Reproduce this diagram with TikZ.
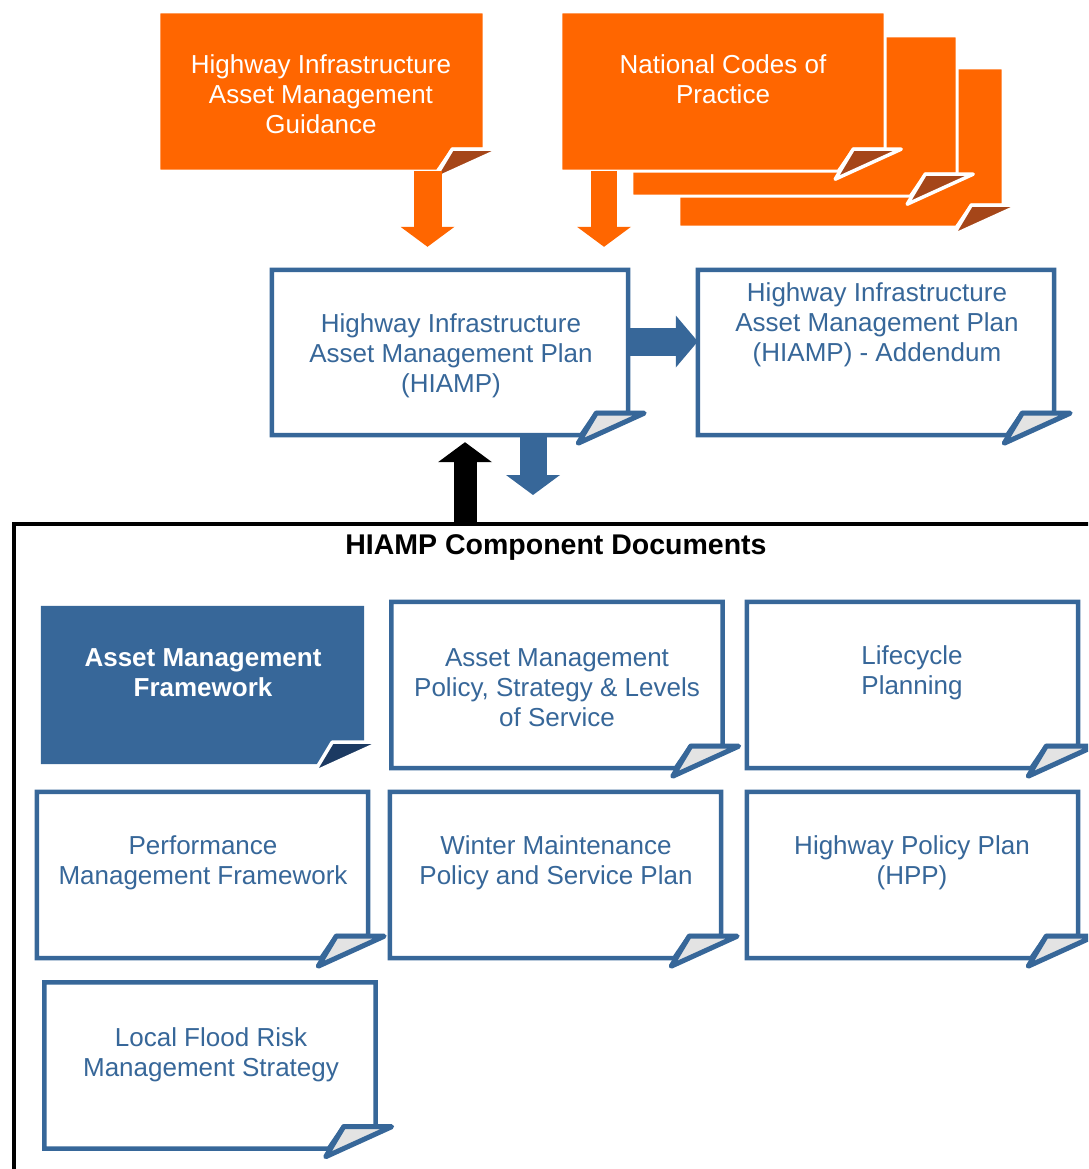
\documentclass[tikz,border=0pt]{standalone}
\usepackage{fontspec}
\setmainfont{Liberation Sans}
\usetikzlibrary{arrows.meta}

\definecolor{hiorange}{RGB}{255,102,0}
\definecolor{hibrown}{RGB}{165,70,25}
\definecolor{hiblue}{RGB}{55,103,153}
\definecolor{hidark}{RGB}{28,58,98}

% page outline with a turned-up corner, drawn round a named node
\newcommand{\pageframe}[3]{%
  \path[#2] (#1.north west) -- (#1.north east) -- ([yshift=22pt]#1.south east)
    -- ([xshift=-32pt,yshift=22pt]#1.south east) -- ([xshift=-47pt]#1.south east)
    -- (#1.south west) -- cycle;
  \path[#3] ([xshift=-32pt,yshift=22pt]#1.south east) -- ([xshift=16pt,yshift=22pt]#1.south east)
    -- ([xshift=-50pt,yshift=-8pt]#1.south east) -- cycle;}

\begin{document}
\begin{tikzpicture}[x=1pt,y=-1pt,
    page/.style={inner sep=0pt, minimum width=331pt, minimum height=166pt},
    orangepage/.style={fill=hiorange, draw=white, line width=3pt},
    orangeflap/.style={fill=hibrown, draw=white, line width=3.5pt, line join=round},
    bluepage/.style={draw=hiblue, line width=4.5pt, fill=white},
    blueflap/.style={draw=hiblue, line width=5pt, fill=gray!22, line join=round},
    darkpage/.style={fill=hiblue},
    darkflap/.style={fill=hidark, draw=white, line width=3.5pt, line join=round},
    doctext/.style={text=hiblue, align=center, font=\fontsize{26}{30}\selectfont},
    whitetext/.style={text=white, align=center, font=\fontsize{26}{30}\selectfont},
    blockarrow/.style={-{Triangle[width=54pt,length=20pt,line width'=0pt]}}]

    \useasboundingbox (0,0) rectangle (1088,1169);
    \clip (0,0) rectangle (1088,1169);

    % Source documents
    \node[page, minimum width=325pt, minimum height=159pt] (guide) at (321.5,91.5) {};
    \node[page, minimum width=324pt, minimum height=159pt] (ncp3) at (841,147.5) {};
    \node[page, minimum width=325pt, minimum height=160pt] (ncp2) at (794.5,116) {};
    \node[page, minimum width=324pt, minimum height=159pt] (ncp1) at (723,91.5) {};

    % Plan and addendum
    \node[page, minimum width=356pt, minimum height=165pt] (hiamp) at (450,352.5) {};
    \node[page, minimum width=356pt, minimum height=165pt] (addendum) at (876,352.5) {};

    % Component documents
    \node[draw, line width=4pt, inner sep=0pt, minimum width=1088pt, minimum height=660pt,
        anchor=north west] (comp) at (12,522) {};
    \node[page, minimum width=323pt, minimum height=158pt] (amf) at (202.5,685) {};
    \node[page] (amp) at (557,685) {};
    \node[page] (life) at (912.5,685) {};
    \node[page] (perf) at (202.5,875) {};
    \node[page] (winter) at (555.5,875) {};
    \node[page] (hpp) at (912.5,875) {};
    \node[page] (flood) at (210,1065.5) {};

    \pageframe{guide}{orangepage}{orangeflap}
    \pageframe{ncp3}{orangepage}{orangeflap}
    \pageframe{ncp2}{orangepage}{orangeflap}
    \pageframe{ncp1}{orangepage}{orangeflap}
    \pageframe{hiamp}{bluepage}{blueflap}
    \pageframe{addendum}{bluepage}{blueflap}
    \pageframe{amf}{darkpage}{darkflap}
    \foreach \d in {amp,life,perf,winter,hpp,flood}
        {\pageframe{\d}{bluepage}{blueflap}}

    % Texts
    \node[whitetext] (guideT) at (321,94) {Highway Infrastructure\\Asset Management\\Guidance};
    \node[whitetext] (ncpT) at (723,79) {National Codes of\\Practice};
    \node[doctext] (hiampT) at (451,356) {Highway Infrastructure\\Asset Management Plan\\(HIAMP)};
    \node[doctext] (addendumT) at (877,325) {Highway Infrastructure\\Asset Management Plan\\(HIAMP) - Addendum};
    \node[font=\bfseries\fontsize{28.5}{30}\selectfont] (compT) at (556,548) {HIAMP Component Documents};
    \node[whitetext, font=\bfseries\fontsize{26}{30}\selectfont] (amfT) at (203,673) {Asset Management\\Framework};
    \node[doctext] (ampT) at (557,688) {Asset Management\\Policy, Strategy \& Levels\\of Service};
    \node[doctext] (lifeT) at (912,673) {Lifecycle\\Planning};
    \node[doctext] (perfT) at (203,863) {Performance\\Management Framework};
    \node[doctext] (winterT) at (556,863) {Winter Maintenance\\Policy and Service Plan};
    \node[doctext] (hppT) at (912,863) {Highway Policy Plan\\(HPP)};
    \node[doctext] (floodT) at (211,1055) {Local Flood Risk\\Management Strategy};

    % Arrows
    \draw[blockarrow, hiorange, line width=28pt, shorten >=23pt]
        ([xshift=106pt]guide.south) -- ([xshift=106pt]guide.south |- hiamp.north);
    \draw[blockarrow, hiorange, line width=26pt, shorten >=23pt]
        ([xshift=-119pt]ncp1.south) -- ([xshift=-119pt]ncp1.south |- hiamp.north);
    \draw[-{Triangle[width=52pt,length=22pt,line width'=0pt]}, hiblue, line width=28pt]
        ([yshift=11pt]hiamp.east) -- ([yshift=11pt]hiamp.east -| addendum.west);
    \draw[blockarrow, hiblue, line width=27pt, shorten >=27pt]
        ([xshift=83pt]hiamp.south) -- ([xshift=83pt]hiamp.south |- comp.north);
    \draw[blockarrow, black, line width=23pt, shorten >=7pt]
        ([xshift=-93pt]comp.north) -- ([xshift=-93pt]comp.north |- hiamp.south);

\end{tikzpicture}
\end{document}
